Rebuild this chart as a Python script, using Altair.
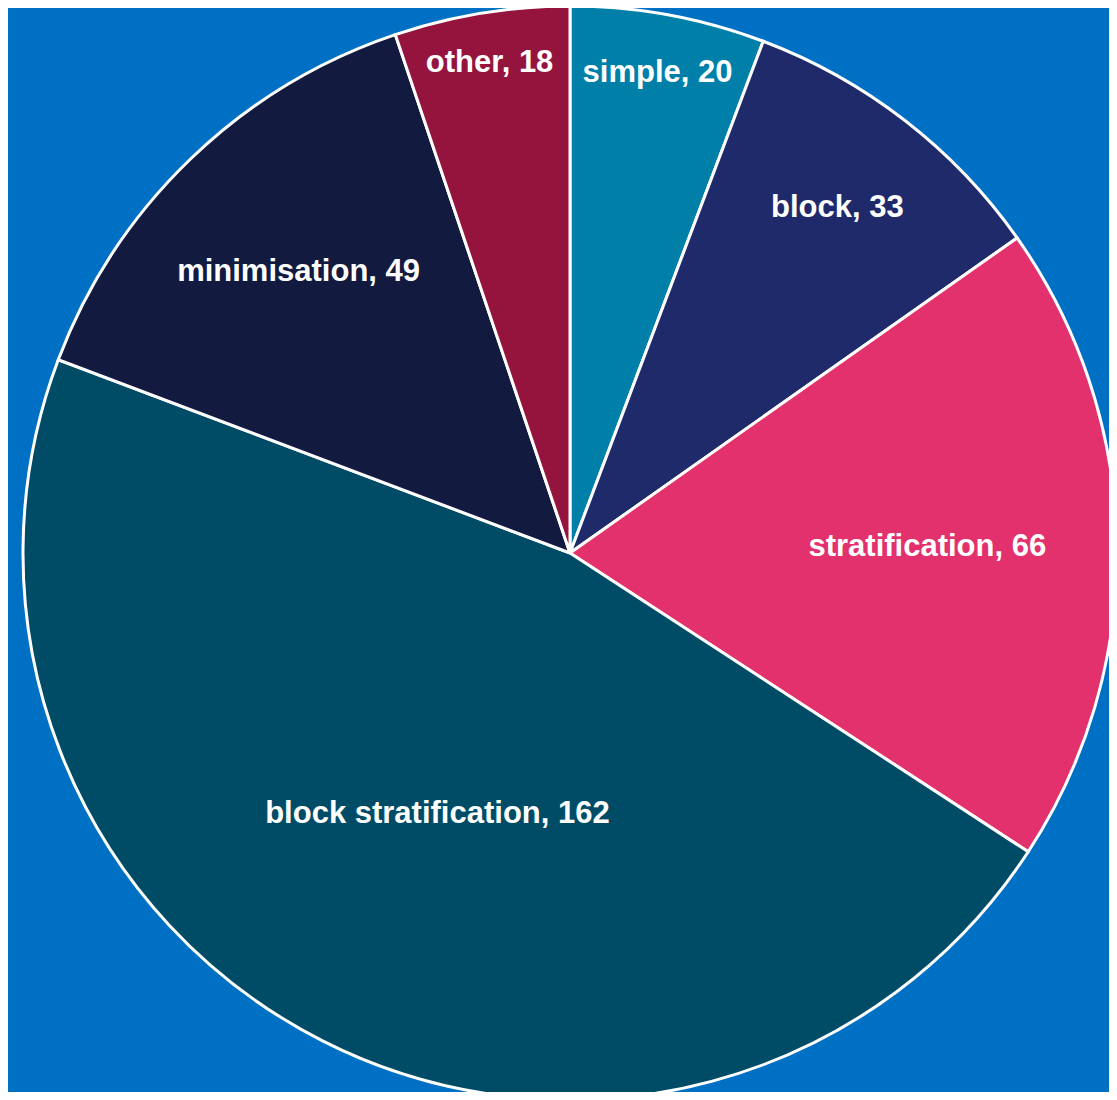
import altair as alt
import pandas as pd

categories = ["simple", "block", "stratification", "block stratification", "minimisation", "other"]
values = [20, 33, 66, 162, 49, 18]
colors = ["#007FA8", "#1F2A6B", "#E3316D", "#004C66", "#121A40", "#95143D"]

df = pd.DataFrame({
    "category": categories,
    "value": values,
    "order": list(range(len(categories))),
})
df["label"] = [f"{c}, {v}" for c, v in zip(categories, values)]

R = 547
CX, CY = 562, 545

pie = alt.Chart(df).mark_arc(
    outerRadius=R, stroke="white", strokeWidth=3
).encode(
    theta=alt.Theta("value:Q", stack=True),
    order=alt.Order("order:Q", sort="ascending"),
    x=alt.value(CX),
    y=alt.value(CY),
    color=alt.Color("category:N", scale=alt.Scale(domain=categories, range=colors), legend=None),
)

labels = alt.Chart(df).transform_joinaggregate(
    total="sum(value)"
).transform_window(
    cum="sum(value)", sort=[alt.SortField("order", order="ascending")],
    frame=[None, 0],
).transform_calculate(
    frac="datum.value / datum.total",
    ang="2 * PI * (datum.cum - datum.value / 2) / datum.total",
).transform_calculate(
    lr=f"{R} * (0.52 + 0.58 * exp(-datum.frac / 0.129))"
).mark_text(
    font="Liberation Sans", fontWeight="bold", fontSize=31, color="white",
    align="center", baseline="middle"
).encode(
    x=alt.value(CX),
    y=alt.value(CY),
    theta=alt.Theta("ang:Q", scale=None),
    radius=alt.Radius("lr:Q", scale=None),
    text="label:N",
)

chart = alt.layer(pie, labels).properties(
    width=1101, height=1084,
    autosize=alt.AutoSizeParams(type="none"),
    padding=0,
    background="#0070C4",
).configure_view(stroke=None)

chart.save("out.html", embed_options={"renderer": "svg", "actions": False})
